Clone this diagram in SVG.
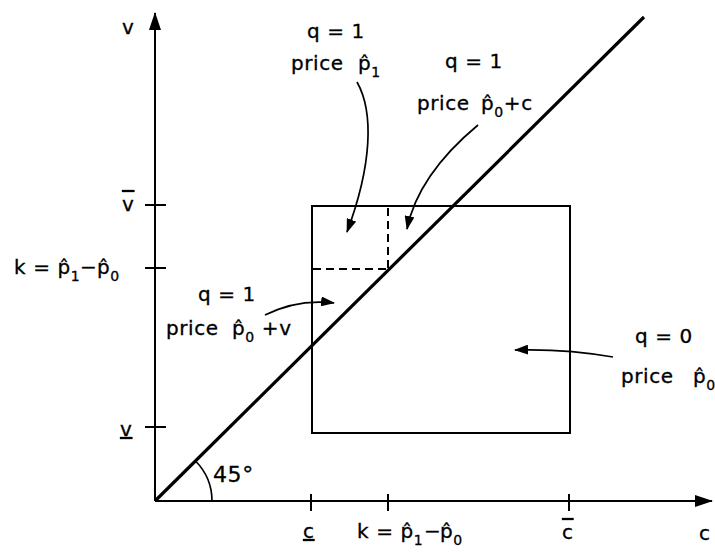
<svg xmlns="http://www.w3.org/2000/svg" width="715" height="552" viewBox="0 0 715 552">
<defs>
<marker id="ah" viewBox="0 0 14 10" refX="13" refY="5" markerWidth="14" markerHeight="10" markerUnits="userSpaceOnUse" orient="auto">
<path d="M0,0 L14,5 L0,10 Z" fill="#000"/>
</marker>
<marker id="axh" viewBox="0 0 18 12" refX="17" refY="6" markerWidth="18" markerHeight="12" markerUnits="userSpaceOnUse" orient="auto">
<path d="M0,0 L18,6 L0,12 Z" fill="#000"/>
</marker>
</defs>
<style>
text{font-family:"DejaVu Sans","Liberation Sans",sans-serif;font-size:20px;letter-spacing:0.6px;fill:#000;stroke:#000;stroke-width:0.3}
.sub{font-size:14px}
.ax{stroke:#000;stroke-width:2;fill:none}
.thick{stroke:#000;stroke-width:3.2;fill:none}
.dash{stroke:#000;stroke-width:2;stroke-dasharray:8,5;fill:none}
.cv{stroke:#000;stroke-width:1.7;fill:none}
.ol{text-decoration:overline}
.ul{text-decoration:underline}
</style>
<rect width="715" height="552" fill="#fff"/>
<g id="axes">
<line class="ax" x1="155" y1="501" x2="155" y2="13" marker-end="url(#axh)"/>
<line class="ax" x1="155" y1="501" x2="712" y2="501" marker-end="url(#axh)"/>
<line class="ax" x1="145" y1="205" x2="166" y2="205"/>
<line class="ax" x1="145" y1="268" x2="166" y2="268"/>
<line class="ax" x1="145" y1="427" x2="166" y2="427"/>
<line class="ax" x1="311" y1="494" x2="311" y2="511"/>
<line class="ax" x1="388" y1="494" x2="388" y2="511"/>
<line class="ax" x1="569" y1="494" x2="569" y2="511"/>
<path class="cv" d="M212,501 A57,57 0 0 0 195.5,461"/>
</g>
<g id="box">
<rect class="ax" x="312" y="206" width="258" height="227"/>
<path class="dash" d="M388,208 V269 M313,269 H388"/>
</g>
<g id="diagonal">
<line class="thick" x1="155" y1="501" x2="644" y2="17"/>
</g>
<g id="connectors">
<path class="cv" d="M357,82 C374,112 372,165 347,232" marker-end="url(#ah)"/>
<path class="cv" d="M478,125 C448,150 416,185 407,229" marker-end="url(#ah)"/>
<path class="cv" d="M265,315 C285,305 310,300 334,303" marker-end="url(#ah)"/>
<path class="cv" d="M613,357 C585,352 550,349 515,350" marker-end="url(#ah)"/>
</g>
<g id="axis-labels">
<text x="122" y="34">v</text>
<text x="122" y="211" class="ol">v</text>
<text x="14" y="274">k = p̂<tspan class="sub" dy="7">1</tspan><tspan dy="-7" x="80">−</tspan><tspan x="97">p̂</tspan><tspan class="sub" dy="7">0</tspan></text>
<text x="120" y="436" class="ul">v</text>
<text x="303" y="538" class="ul">c</text>
<text x="357" y="538">k = p̂<tspan class="sub" dy="7">1</tspan><tspan dy="-7" x="424">−</tspan><tspan x="440">p̂</tspan><tspan class="sub" dy="7">0</tspan></text>
<text x="562" y="539" class="ol">c</text>
<text x="699" y="540">c</text>
<text x="213" y="482" style="font-size:22px">45°</text>
</g>
<g id="label-p1">
<text x="307" y="38">q = 1</text>
<text x="291" y="70">price <tspan x="358">p̂</tspan><tspan class="sub" dy="7">1</tspan></text>
</g>
<g id="label-p0c">
<text x="445" y="68">q = 1</text>
<text x="417" y="110">price <tspan x="481">p̂</tspan><tspan class="sub" dy="7">0</tspan><tspan dy="-7">+c</tspan></text>
</g>
<g id="label-p0v">
<text x="198" y="301">q = 1</text>
<text x="166" y="335">price <tspan x="232">p̂</tspan><tspan class="sub" dy="7">0</tspan><tspan dy="-7"> +v</tspan></text>
</g>
<g id="label-p0">
<text x="635" y="343">q = 0</text>
<text x="621" y="383">price <tspan x="693">p̂</tspan><tspan class="sub" dy="7">0</tspan></text>
</g>
</svg>
